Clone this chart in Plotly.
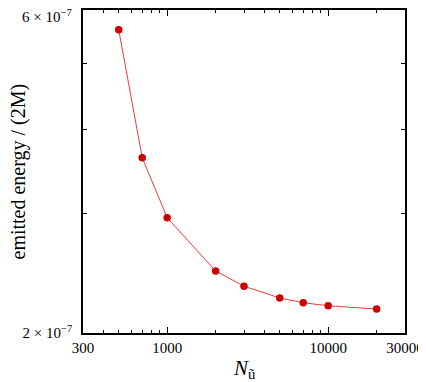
import plotly.graph_objects as go
import math

# Data
n_u = [500, 700, 1000, 2000, 3000, 5000, 7000, 10000, 20000]
energy = [5.61e-7, 3.63e-7, 2.96e-7, 2.47e-7, 2.345e-7, 2.253e-7, 2.217e-7, 2.194e-7, 2.170e-7]

x_ticks = [300, 400, 500, 600, 700, 800, 900, 2000, 3000, 4000, 5000, 6000, 7000, 8000, 9000, 20000, 30000]
x_labels = {300: "300", 30000: "30000"}
x_major = [1000, 10000]
x_major_labels = ["1000", "10000"]
y_ticks = [2e-7, 3e-7, 4e-7, 5e-7, 6e-7]
y_labels = ["2 × 10<sup>−7</sup>", "", "", "", "6 × 10<sup>−7</sup>"]
x_title = "<i>N</i><sub>ũ</sub>"
y_title = "emitted energy / (2M)"

fig = go.Figure()
fig.add_trace(go.Scatter(
    x=n_u, y=energy, mode="lines+markers",
    line=dict(color="#ee3a3a", width=1),
    marker=dict(color="#cc0000", size=7.5),
    showlegend=False,
))

font = "Liberation Serif, Times New Roman, serif"
fig.update_layout(
    width=418, height=374,
    margin=dict(l=75, r=21, t=2, b=49),
    paper_bgcolor="white", plot_bgcolor="white",
    font=dict(family=font, size=15, color="black"),
    xaxis=dict(
        type="log", range=[math.log10(300), math.log10(30000)],
        tickmode="array",
        tickvals=x_ticks + x_major,
        ticktext=[x_labels.get(v, "") for v in x_ticks] + x_major_labels,
        ticks="inside", ticklen=3, tickwidth=1, tickcolor="black",
        showline=True, linecolor="black", linewidth=1.5, mirror="ticks",
        showgrid=False, zeroline=False, automargin=False,
        ticklabeloverflow="allow",
        minor=dict(tickmode="array", tickvals=x_major, ticks="inside", ticklen=6, tickwidth=1, tickcolor="black", showgrid=False),
        tickfont=dict(size=15),
    ),
    yaxis=dict(
        type="log", range=[math.log10(2e-7), math.log10(6e-7)],
        tickmode="array", tickvals=y_ticks, ticktext=y_labels[:-1] + [""],
        ticks="inside", ticklen=4, tickwidth=1, tickcolor="black",
        showline=True, linecolor="black", linewidth=1.5, mirror="ticks",
        showgrid=False, zeroline=False, automargin=False,
        ticklabeloverflow="allow", ticklabelstandoff=6,
        tickfont=dict(size=15),
    ),
    annotations=[
        dict(text=y_labels[-1], xref="paper", yref="y", x=0, y=math.log10(y_ticks[-1]),
             xanchor="right", yanchor="middle", xshift=-9, yshift=-6,
             showarrow=False, font=dict(size=15)),
        dict(text=y_title, xref="paper", yref="paper", x=0, y=0.5,
             xanchor="center", yanchor="middle", xshift=-65, textangle=-90,
             showarrow=False, font=dict(size=20)),
        dict(text=x_title, xref="paper", yref="paper", x=0.5, y=0,
             xanchor="center", yanchor="middle", yshift=-36,
             showarrow=False, font=dict(size=21)),
    ],
)

fig.write_html("out.html")
